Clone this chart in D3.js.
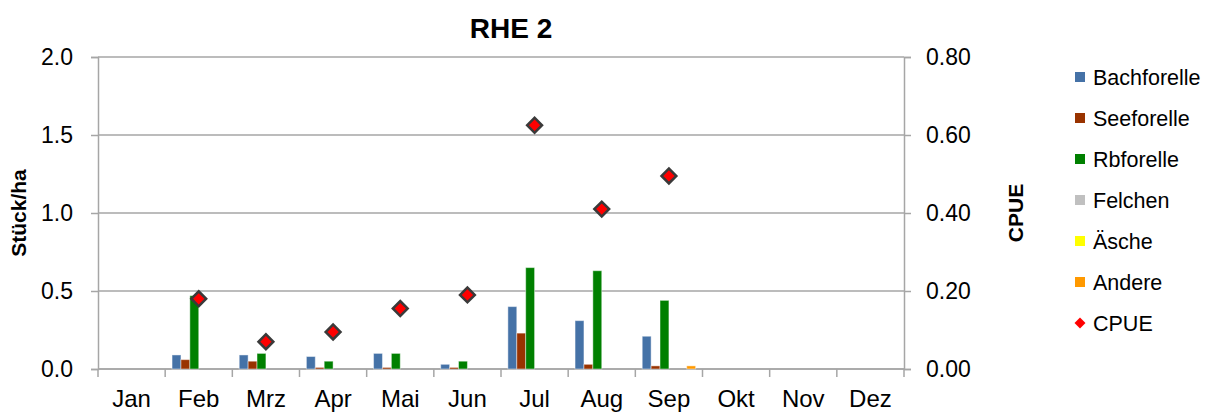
<!DOCTYPE html>
<html>
<head>
<meta charset="utf-8">
<script src="https://cdn.jsdelivr.net/npm/d3@7"></script>
<style>
  body { margin: 0; background: #fff; }
  svg text { font-family: "Liberation Sans", Arial, sans-serif; fill: #000; }
</style>
</head>
<body>
<div id="chart"></div>
<script>
const months = ["Jan", "Feb", "Mrz", "Apr", "Mai", "Jun", "Jul", "Aug", "Sep", "Okt", "Nov", "Dez"];
const species = ["Bachforelle", "Seeforelle", "Rbforelle", "Felchen", "Äsche", "Andere"];
const speciesColors = ["#4572A7", "#993300", "#008000", "#C0C0C0", "#FFFF00", "#FF9900"];

const bachforelle = [0, 0.09, 0.09, 0.08, 0.10, 0.03, 0.40, 0.31, 0.21, 0, 0, 0];
const seeforelle  = [0, 0.06, 0.05, 0.01, 0.01, 0.01, 0.23, 0.03, 0.02, 0, 0, 0];
const rbforelle   = [0, 0.47, 0.10, 0.05, 0.10, 0.05, 0.65, 0.63, 0.44, 0, 0, 0];
const felchen     = [0, 0, 0, 0, 0, 0, 0, 0, 0, 0, 0, 0];
const aesche      = [0, 0, 0, 0, 0, 0, 0, 0, 0, 0, 0, 0];
const andere      = [0, 0, 0, 0, 0, 0, 0, 0, 0.02, 0, 0, 0];
const cpue        = [null, 0.18, 0.07, 0.095, 0.155, 0.19, 0.625, 0.41, 0.495, null, null, null];

const leftTicks = [0, 0.5, 1.0, 1.5, 2.0];
const rightTicks = [0, 0.2, 0.4, 0.6, 0.8];

const seriesValues = [bachforelle, seeforelle, rbforelle, felchen, aesche, andere];

const width = 1219, height = 414;
const margin = { top: 57, right: 315, bottom: 45, left: 98 };
const plotW = width - margin.left - margin.right;
const plotH = height - margin.top - margin.bottom;

const svg = d3.select("#chart").append("svg")
    .attr("width", width)
    .attr("height", height);

const g = svg.append("g").attr("transform", `translate(${margin.left},${margin.top})`);

const x0 = d3.scaleBand().domain(months).range([0, plotW]).padding(0);
const x1 = d3.scaleBand().domain(species)
    .range([x0.bandwidth() * 0.1025, x0.bandwidth() * 0.8975]).padding(0);
const y = d3.scaleLinear().domain([0, 2.0]).range([plotH, 0]);
const y2 = d3.scaleLinear().domain([0, 0.8]).range([plotH, 0]);

const gridColor = "#a6a6a6";

// gridlines
g.selectAll(".grid").data(leftTicks).enter().append("line")
    .attr("x1", 0).attr("x2", plotW)
    .attr("y1", d => y(d)).attr("y2", d => y(d))
    .attr("stroke", gridColor).attr("stroke-width", 1.5);

// left axis
const leftAxis = g.append("g")
    .call(d3.axisLeft(y).tickValues(leftTicks).tickFormat(d3.format(".1f")).tickSize(7).tickPadding(18));
leftAxis.select(".domain").attr("stroke", gridColor).attr("stroke-width", 1.5);
leftAxis.selectAll(".tick line").attr("stroke", gridColor).attr("stroke-width", 1.5);
leftAxis.selectAll("text").style("font-size", "23px").attr("fill", "#000");

// right axis
const rightAxis = g.append("g")
    .attr("transform", `translate(${plotW},0)`)
    .call(d3.axisRight(y2).tickValues(rightTicks).tickFormat(d3.format(".2f")).tickSize(7).tickPadding(15));
rightAxis.select(".domain").attr("stroke", gridColor).attr("stroke-width", 1.5);
rightAxis.selectAll(".tick line").attr("stroke", gridColor).attr("stroke-width", 1.5);
rightAxis.selectAll("text").style("font-size", "23px").attr("fill", "#000");

// bottom axis: ticks at category boundaries
const xAxis = g.append("g").attr("transform", `translate(0,${plotH})`);
xAxis.append("line").attr("x1", 0).attr("x2", plotW)
    .attr("stroke", gridColor).attr("stroke-width", 1.5);
xAxis.selectAll(".bt").data(d3.range(months.length + 1)).enter().append("line")
    .attr("x1", i => i * x0.step()).attr("x2", i => i * x0.step())
    .attr("y1", 0).attr("y2", 8)
    .attr("stroke", gridColor).attr("stroke-width", 1.5);
xAxis.selectAll(".ml").data(months).enter().append("text")
    .attr("x", d => x0(d) + x0.bandwidth() / 2)
    .attr("y", 38)
    .attr("text-anchor", "middle")
    .style("font-size", "24px")
    .text(d => d);

// bars
const barData = [];
months.forEach((m, i) => {
    species.forEach((s, j) => {
        barData.push({ month: m, species: s, value: seriesValues[j][i], color: speciesColors[j] });
    });
});
g.selectAll(".bar").data(barData.filter(d => d.value > 0)).enter().append("rect")
    .attr("class", "bar")
    .attr("x", d => x0(d.month) + x1(d.species))
    .attr("y", d => y(d.value))
    .attr("width", x1.bandwidth())
    .attr("height", d => plotH - y(d.value))
    .attr("fill", d => d.color)
    .attr("stroke", "rgba(255,255,255,0.45)")
    .attr("stroke-width", 1);

// CPUE diamonds
const diamond = d3.symbol().type(d3.symbolSquare).size(110);
const cpueData = months.map((m, i) => ({ month: m, value: cpue[i] })).filter(d => d.value !== null);
g.selectAll(".cpue").data(cpueData).enter().append("path")
    .attr("d", diamond)
    .attr("transform", d => `translate(${x0(d.month) + x0.bandwidth() / 2},${y2(d.value)}) rotate(45)`)
    .attr("fill", "#FF0000")
    .attr("stroke", "#3a3a3a")
    .attr("stroke-width", 2.5);

// title
svg.append("text")
    .attr("x", 511).attr("y", 38)
    .attr("text-anchor", "middle")
    .style("font-size", "28px").style("font-weight", "bold")
    .text("RHE 2");

// axis titles
svg.append("text")
    .attr("transform", `translate(26,${margin.top + plotH / 2}) rotate(-90)`)
    .attr("text-anchor", "middle")
    .style("font-size", "21px").style("font-weight", "bold")
    .text("Stück/ha");
svg.append("text")
    .attr("transform", `translate(1023,${margin.top + plotH / 2}) rotate(-90)`)
    .attr("text-anchor", "middle")
    .style("font-size", "21px").style("font-weight", "bold")
    .text("CPUE");

// legend
const legendItems = species.map((s, i) => ({ name: s, color: speciesColors[i], type: "rect" }))
    .concat([{ name: "CPUE", color: "#FF0000", type: "diamond" }]);
const legend = svg.append("g").attr("transform", "translate(1073,77)");
const li = legend.selectAll(".li").data(legendItems).enter().append("g")
    .attr("transform", (d, i) => `translate(0,${i * 41})`);
li.filter(d => d.type === "rect").append("rect")
    .attr("x", 2).attr("y", -5).attr("width", 10).attr("height", 10)
    .attr("fill", d => d.color);
li.filter(d => d.type === "diamond").append("path")
    .attr("d", d3.symbol().type(d3.symbolSquare).size(60))
    .attr("transform", "translate(7,0) rotate(45)")
    .attr("fill", "#FF0000");
li.append("text")
    .attr("x", 20).attr("y", 0).attr("dy", "0.36em")
    .style("font-size", "21.5px")
    .text(d => d.name);
</script>
</body>
</html>
